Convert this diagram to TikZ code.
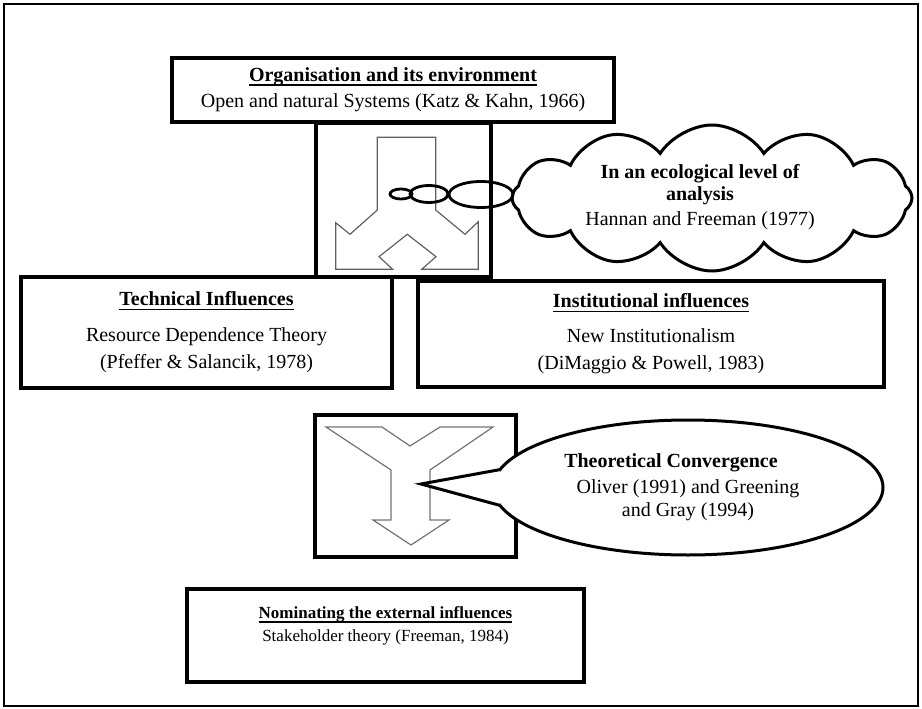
\documentclass[tikz,border=0pt]{standalone}
\usepackage{fontspec}
\setmainfont{Liberation Serif}
\usetikzlibrary{shapes.symbols,shapes.geometric}
\newsavebox\ulbox
\newcommand\myul[1]{\sbox\ulbox{#1}\rlap{\rule[-4pt]{\wd\ulbox}{1.3pt}}\usebox\ulbox}
\begin{document}
\begin{tikzpicture}[x=1pt,y=-1pt,
  box/.style={draw,rectangle,line width=3.5pt,inner sep=0pt,align=center},
  big/.style={font=\fontsize{20}{24}\selectfont},
  small/.style={font=\fontsize{17}{20}\selectfont},
  arrowline/.style={draw=black!62,line width=1.2pt,line join=miter},
  yline/.style={draw=black!55,line width=1.2pt,line join=miter},
  bubble/.style={draw,ellipse,line width=2.8pt,inner sep=0pt}]
\useasboundingbox (0,0) rectangle (922,709);
% outer frame
\node[draw,rectangle,line width=2.5pt,minimum width=914,minimum height=702,inner sep=0] (frame) at (461,355) {};
% arrow box
\node[box,minimum width=175,minimum height=154] (abox) at (403.5,200) {};
% organisation box
\node[box,big,minimum width=442,minimum height=64] (org) at (393,90)
  {\myul{\bfseries Organisation and its environment}\\[2pt]
   Open and natural Systems (Katz \& Kahn, 1966)};
% top arrow (three-way)
\draw[arrowline] (377.3,137.3) -- (435.7,137.3) -- (435.7,210) -- (465,234.3)
  -- (478.3,221.7) -- (478.3,269.3) -- (421.7,269.3) -- (436,256.7)
  -- (407.3,234.3) -- (379,256.7) -- (392.7,269.3) -- (335.7,269.3)
  -- (335.7,222.7) -- (350,234.3) -- (377.3,210) -- cycle;
% technical box
\node[box,big,minimum width=371,minimum height=111] (tech) at (206.5,332.5)
  {\myul{\bfseries Technical Influences}\\[12pt]
   Resource Dependence Theory\\[3pt]
   (Pfeffer \& Salancik, 1978)};
% institutional box
\node[box,big,minimum width=466,minimum height=106] (inst) at (651,334)
  {\myul{\bfseries Institutional influences}\\[11pt]
   New Institutionalism\\[3pt]
   (DiMaggio \& Powell, 1983)};
% cloud
\node[cloud,draw,fill=white,line width=3pt,cloud puffs=12,cloud puff arc=115,
  cloud ignores aspect,minimum width=400,minimum height=146,inner sep=0pt] (cloud) at (712,198) {};
\node[big,align=center,inner sep=0pt] (cloudtxt) at (700,197)
  {\bfseries In an ecological level of\\[-2pt]
   \bfseries analysis\\[1pt]
   Hannan and Freeman (1977)};
% thought bubbles
\node[bubble,minimum width=22,minimum height=10] (b1) at (401,194) {};
\node[bubble,minimum width=38,minimum height=17] (b2) at (429,194) {};
\node[bubble,minimum width=64,minimum height=26] (b3) at (481,194.5) {};
% Y box
\node[box,minimum width=201,minimum height=142] (ybox) at (415.5,486) {};
\draw[yline] (326,427) -- (382,427) -- (410,446) -- (440,427) -- (493,427)
  -- (430,470) -- (430,520) -- (449,520) -- (411,545) -- (373,520)
  -- (391,520) -- (391,470) -- cycle;
% convergence ellipse callout
\node[ellipse,draw,fill=white,line width=3pt,minimum width=390,minimum height=135,
  inner sep=0pt,align=center,big] (conv) at (688,487.5)
  {\hspace*{-34pt}\bfseries Theoretical Convergence\\[2pt]
   Oliver (1991) and Greening\\[-1pt]
   and Gray (1994)};
\coordinate (tip) at (421,484);
\coordinate (cu) at (500,469.6);
\coordinate (cl) at (500,505.4);
\fill[white] (tip) -- (cu) -- (cl) -- cycle;
\draw[line width=3pt,line join=miter] (cu) -- (tip) -- (cl);
% nominating box
\node[box,minimum width=397,minimum height=93] (nom) at (385.5,635.5) {};
\node[small,align=center,inner sep=0pt] (nomtxt) at (385.5,626)
  {\myul{\bfseries Nominating the external influences}\\[3pt]
   Stakeholder theory (Freeman, 1984)};
\end{tikzpicture}
\end{document}
